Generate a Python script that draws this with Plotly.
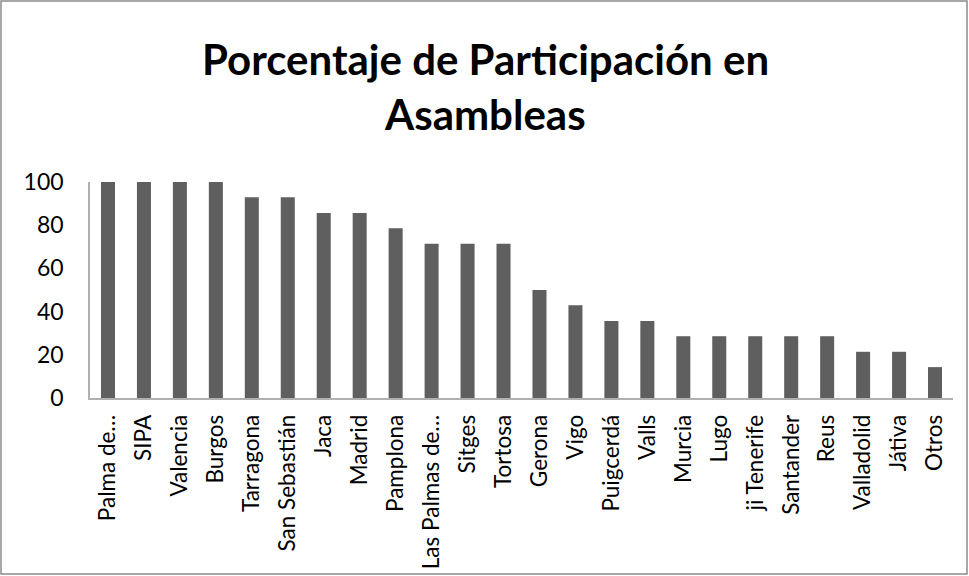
import plotly.graph_objects as go

categories = ["Palma de…", "SIPA", "Valencia", "Burgos", "Tarragona", "San Sebastián",
              "Jaca", "Madrid", "Pamplona", "Las Palmas de…", "Sitges", "Tortosa",
              "Gerona", "Vigo", "Puigcerdá", "Valls", "Murcia", "Lugo", "ji Tenerife",
              "Santander", "Reus", "Valladolid", "Játiva", "Otros"]
values = [100, 100, 100, 100, 92.9, 92.9, 85.7, 85.7, 78.6, 71.4, 71.4, 71.4,
          50, 42.9, 35.7, 35.7, 28.6, 28.6, 28.6, 28.6, 28.6, 21.4, 21.4, 14.3]
y_ticks = [0, 20, 40, 60, 80, 100]
title_lines = ["Porcentaje de Participación en", "Asambleas"]

W, H = 969, 576
L, R, T, B = 90, 16, 182, 178
pw, ph = W - L - R, H - T - B

def px_x(x):
    return (x - L) / pw

def px_y(y):
    return (H - B - y) / ph

fig = go.Figure(go.Bar(x=categories, y=values, marker=dict(color="#5f5f5f", line=dict(width=0)),
                       hoverinfo="x+y"))

fig.update_layout(
    width=W, height=H,
    margin=dict(l=L, r=R, t=T, b=B, autoexpand=False),
    paper_bgcolor="white", plot_bgcolor="white",
    font=dict(family="Lato, Open Sans, sans-serif", color="black"),
    bargap=0.61,
    showlegend=False,
    xaxis=dict(
        type="category", tickangle=-90, tickfont=dict(size=22.5),
        showline=True, linecolor="#b0b0b0", linewidth=1.5, showgrid=False,
        ticks="", ticklabelstandoff=6,
    ),
    yaxis=dict(
        range=[0, 100], tickvals=y_ticks, tickfont=dict(size=23),
        showline=True, linecolor="#b0b0b0", linewidth=1.5, showgrid=False,
        ticks="", ticklabelstandoff=20, zeroline=False,
    ),
    shapes=[dict(type="rect", xref="paper", yref="paper",
                 x0=px_x(1), x1=px_x(967), y0=px_y(574), y1=px_y(1),
                 line=dict(color="#8c8c8c", width=1.5), fillcolor="rgba(0,0,0,0)")],
    annotations=[
        dict(text="<b>%s</b>" % title_lines[0], xref="paper", yref="paper",
             x=px_x(485), y=px_y(59), xanchor="center", yanchor="middle",
             showarrow=False, font=dict(size=42)),
        dict(text="<b>%s</b>" % title_lines[1], xref="paper", yref="paper",
             x=px_x(485), y=px_y(114), xanchor="center", yanchor="middle",
             showarrow=False, font=dict(size=42)),
    ],
)

fig.write_html("out.html", config={"displayModeBar": False},
               post_script="document.body.style.margin='0';document.body.style.overflow='hidden';")
